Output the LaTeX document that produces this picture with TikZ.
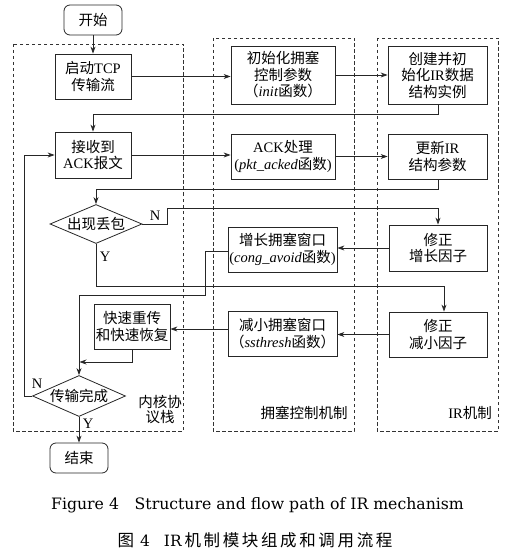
\documentclass[tikz,border=0pt]{standalone}
\usepackage{fontspec}
\setmainfont{Liberation Serif}
\newfontfamily\cjk{Noto Sans CJK SC}
\newfontfamily\capcjk[LetterSpace=16]{Noto Sans CJK SC}
\newfontfamily\capfont{DejaVu Serif}
\usetikzlibrary{arrows.meta,shapes.geometric}
\newcommand\zh[1]{{\cjk #1}}
\tikzset{
  boxfont/.style={font=\fontsize{14.5}{16.5}\selectfont},
  proc/.style={draw=black!85, line width=0.8pt, align=center, inner sep=0pt, boxfont},
  term/.style={proc, rounded corners=6pt},
  decis/.style={proc, diamond, aspect=2.4},
  conn/.style={draw=black!85, line width=0.8pt, -{Stealth[length=7pt,width=5pt]}},
  frame/.style={draw=black!80, line width=0.7pt, dash pattern=on 3.5pt off 2.5pt},
  lbl/.style={inner sep=0pt, boxfont, align=center},
}
\begin{document}
\begin{tikzpicture}[x=1pt,y=-1pt]
\useasboundingbox (0,0) rectangle (514,553);
% frames
\draw[frame] (13,44) rectangle (183,431);
\draw[frame] (213,38) rectangle (354,431);
\draw[frame] (377,38) rectangle (498,431);
% nodes
\node[term, minimum width=58pt, minimum height=30pt] (start) at (93,20) {\zh{开始}};
\node[proc, minimum width=76pt, minimum height=45pt] (tcp) at (93,76.5) {\zh{启动}TCP\\\zh{传输流}};
\node[proc, minimum width=104pt, minimum height=58pt] (init) at (283,75) {\zh{初始化拥塞}\\\zh{控制参数}\\\zh{（}\textit{init}\zh{函数）}};
\node[proc, minimum width=99pt, minimum height=58pt] (create) at (437.5,75) {\zh{创建并初}\\\zh{始化}IR\zh{数据}\\\zh{结构实例}};
\node[proc, minimum width=76pt, minimum height=46pt] (recv) at (93,155) {\zh{接收到}\\ACK\zh{报文}};
\node[proc, minimum width=104pt, minimum height=45pt] (ack) at (283,156.5) {ACK\zh{处理}\\(\textit{pkt\_acked}\zh{函数})};
\node[proc, minimum width=99pt, minimum height=45pt] (upd) at (437.5,156.5) {\zh{更新}IR\\\zh{结构参数}};
\node[decis, minimum width=92pt, minimum height=39pt] (loss) at (96,224) {\zh{出现丢包}};
\node[proc, minimum width=109pt, minimum height=45pt] (grow) at (282.5,249.5) {\zh{增长拥塞窗口}\\(\textit{cong\_avoid}\zh{函数})};
\node[proc, minimum width=98pt, minimum height=46pt] (fixg) at (438,248) {\zh{修正}\\\zh{增长因子}};
\node[proc, minimum width=76pt, minimum height=45pt] (fast) at (132,326.5) {\zh{快速重传}\\\zh{和快速恢复}};
\node[proc, minimum width=109pt, minimum height=45pt] (dec) at (282.5,333.5) {\zh{减小拥塞窗口}\\\zh{（}\textit{ssthresh}\zh{函数）}};
\node[proc, minimum width=98pt, minimum height=45pt] (fixd) at (438,334.5) {\zh{修正}\\\zh{减小因子}};
\node[decis, minimum width=93pt, minimum height=41pt] (done) at (79,396) {\zh{传输完成}};
\node[term, minimum width=58pt, minimum height=30pt] (end) at (79,458) {\zh{结束}};
% frame labels
\node[lbl, font=\fontsize{14.5}{15.5}\selectfont] (kern) at (160,409.5) {\zh{内核协}\\\zh{议栈}};
\node[lbl] (ccm) at (304,413) {\zh{拥塞控制机制}};
\node[lbl] (irm) at (470,413) {IR\zh{机制}};
% coordinates
\coordinate (c1) at (438,114);
\coordinate (c2) at (93,114);
\coordinate (c3) at (438,189);
\coordinate (c4) at (96,189);
\coordinate (c5) at (167,224);
\coordinate (c6) at (167,208);
\coordinate (c7) at (438,208);
\coordinate (c8) at (96,286);
\coordinate (c9) at (444,286);
\coordinate (c10) at (205,251);
\coordinate (c11) at (205,295);
\coordinate (c12) at (79,295);
\coordinate (c13) at (132,362);
\coordinate (c14) at (79.5,362);
\coordinate (c15) at (24,396);
\coordinate (c16) at (24,155);
% connectors
\draw[conn] (start) -- (tcp);
\draw[conn] (tcp.east) -- (init.west |- tcp.east);
\draw[conn] (init.east) -- (create.west);
\draw[conn] (create.south -| c1) -- (c1) -- (c2) -- (recv.north);
\draw[conn] (recv.east) -- (ack.west |- recv.east);
\draw[conn] (ack.east) -- (upd.west);
\draw[conn] (upd.south -| c3) -- (c3) -- (c4) -- (loss.north);
\draw[conn] (loss.east) -- (c5) -- (c6) -- (c7) -- (fixg.north);
\draw[conn] (loss.south) -- (c8) -- (c9) -- (fixd.north -| c9);
\draw[conn] (fixg.west) -- (grow.east |- fixg.west);
\draw[conn] (grow.west |- c10) -- (c10) -- (c11) -- (c12) -- (done.north);
\draw[conn] (fixd.west) -- (dec.east |- fixd.west);
\draw[conn] (dec.west |- 0,329) -- (fast.east |- 0,329);
\draw[conn] (fast.south) -- (c13) -- (c14);
\draw[conn] (done.west) -- (c15) -- (c16) -- (recv.west);
\draw[conn] (done.south) -- (end.north);
% branch labels
\node[lbl] (n1) at (155,216) {N};
\node[lbl] (y1) at (105,257) {Y};
\node[lbl] (n2) at (37,384) {N};
\node[lbl] (y2) at (88,424) {Y};
% captions
\node[inner sep=0pt, font=\capfont\fontsize{15.7}{17}\selectfont] (cap1) at (257.5,505) {Figure 4\quad Structure and flow path of IR mechanism};
\node[inner sep=0pt, font=\fontsize{16.5}{18}\selectfont] (cap2) at (255,540) {{\capcjk 图}\hspace{6pt}{\capfont\fontsize{15.5}{18}\selectfont 4}\hspace{14pt}{\capfont\fontsize{15.5}{18}\selectfont IR}\,{\capcjk 机制模块组成和调用流程}};
\end{tikzpicture}
\end{document}
